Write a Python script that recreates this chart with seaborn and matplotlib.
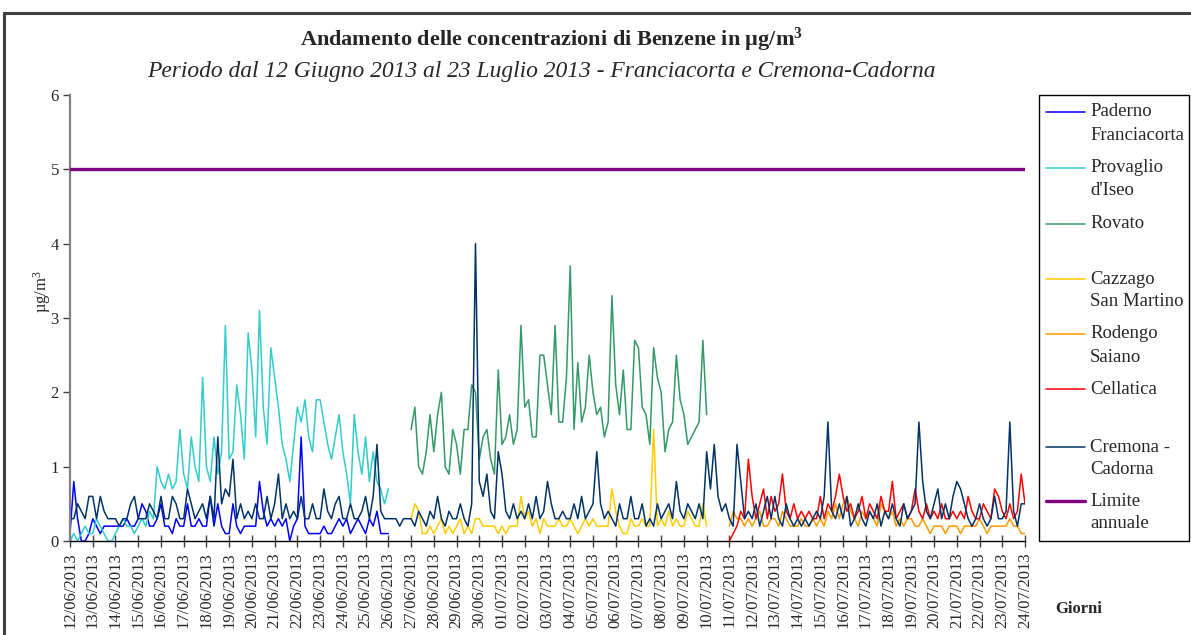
import pandas as pd
import matplotlib
matplotlib.use("Agg")
import matplotlib.pyplot as plt
import matplotlib.dates as mdates
from matplotlib.lines import Line2D
from matplotlib.patches import Rectangle
import seaborn as sns

# ---------------------------------------------------------------------------
# Benzene concentrations (µg/m³), one value every 4 hours
# ---------------------------------------------------------------------------
stations = ["Paderno\nFranciacorta", "Provaglio\nd'Iseo", "Rovato",
            "Cazzago\nSan Martino", "Rodengo\nSaiano", "Cellatica",
            "Cremona -\nCadorna"]
colors = ["#0000FF", "#33CCCC", "#339966", "#FFCC00", "#FF9900", "#FF0000",
          "#003366"]
limit_label = "Limite\nannuale"
limit_color = "#800080"
annual_limit = 5.0

# first sample of each series
starts = ["2013-06-12", "2013-06-12", "2013-06-27", "2013-06-27",
          "2013-07-11", "2013-07-11", "2013-06-12"]

paderno = [
    0.1, 0.8, 0.3, 0.0, 0.0, 0.1,   # 12/06
    0.3, 0.2, 0.1, 0.2, 0.2, 0.2,
    0.2, 0.2, 0.2, 0.3, 0.2, 0.2,
    0.3, 0.5, 0.4, 0.2, 0.2, 0.3,
    0.5, 0.2, 0.2, 0.1, 0.3, 0.2,
    0.2, 0.5, 0.2, 0.2, 0.3, 0.2,
    0.2, 0.6, 0.2, 0.5, 0.2, 0.1,   # 18/06
    0.1, 0.5, 0.2, 0.1, 0.2, 0.2,
    0.2, 0.2, 0.8, 0.4, 0.2, 0.3,
    0.2, 0.3, 0.2, 0.3, 0.0, 0.2,
    0.3, 1.4, 0.2, 0.1, 0.1, 0.1,   # 22/06
    0.1, 0.2, 0.1, 0.1, 0.2, 0.3,
    0.2, 0.3, 0.1, 0.2, 0.3, 0.2,
    0.1, 0.3, 0.2, 0.4, 0.1, 0.1,
    0.1,
]

provaglio = [
    0.0, 0.1, 0.0, 0.1, 0.2, 0.1,   # 12/06
    0.1, 0.3, 0.2, 0.1, 0.0, 0.0,
    0.1, 0.2, 0.3, 0.2, 0.2, 0.1,
    0.2, 0.3, 0.2, 0.4, 0.3, 1.0,
    0.8, 0.7, 0.9, 0.7, 0.8, 1.5,
    0.9, 0.7, 1.4, 1.0, 0.8, 2.2,
    1.0, 0.8, 1.4, 0.9, 1.2, 2.9,   # 18/06
    1.1, 1.2, 2.1, 1.7, 1.1, 2.8,
    2.3, 1.4, 3.1, 1.8, 1.3, 2.6,
    2.2, 1.8, 1.3, 1.1, 0.8, 1.3,
    1.8, 1.6, 1.9, 1.4, 1.2, 1.9,   # 22/06
    1.9, 1.6, 1.3, 1.1, 1.4, 1.7,
    1.2, 0.9, 0.5, 1.7, 1.2, 0.9,
    1.4, 0.8, 1.2, 0.8, 0.7, 0.5,
    0.7,
]

rovato = [
    1.5, 1.8, 1.0, 0.9, 1.2, 1.7,   # 27/06
    1.2, 1.7, 2.0, 1.0, 0.9, 1.5,
    1.3, 0.9, 1.5, 1.5, 2.1, 2.0,
    1.1, 1.4, 1.5, 1.1, 0.9, 2.3,
    1.3, 1.4, 1.7, 1.3, 1.5, 2.9,   # 01/07
    1.8, 1.9, 1.4, 1.4, 2.5, 2.5,
    2.1, 1.7, 2.9, 1.6, 1.6, 2.2,
    3.7, 1.5, 2.4, 1.6, 1.8, 2.5,
    2.0, 1.7, 1.8, 1.4, 1.6, 3.3,   # 05/07
    2.1, 1.7, 2.3, 1.5, 1.5, 2.7,
    2.6, 1.8, 1.7, 1.3, 2.6, 2.2,
    2.0, 1.2, 1.5, 1.6, 2.5, 1.9,
    1.7, 1.3, 1.4, 1.5, 1.6, 2.7,
    1.7,
]

cazzago = [
    0.3, 0.5, 0.4, 0.1, 0.1, 0.2,   # 27/06
    0.1, 0.2, 0.3, 0.1, 0.2, 0.1,
    0.2, 0.3, 0.1, 0.2, 0.1, 0.3,
    0.3, 0.2, 0.2, 0.2, 0.2, 0.1,
    0.2, 0.1, 0.2, 0.2, 0.2, 0.6,   # 01/07
    0.3, 0.4, 0.2, 0.3, 0.1, 0.3,
    0.2, 0.2, 0.2, 0.3, 0.2, 0.2,
    0.3, 0.2, 0.1, 0.2, 0.3, 0.2,
    0.3, 0.2, 0.2, 0.2, 0.2, 0.7,   # 05/07
    0.4, 0.2, 0.1, 0.1, 0.3, 0.2,
    0.2, 0.3, 0.2, 0.2, 1.5, 0.2,
    0.3, 0.2, 0.4, 0.2, 0.3, 0.2,
    0.2, 0.4, 0.3, 0.2, 0.2, 0.5,
    0.2,
]

rodengo = [
    0.2, 0.4, 0.3, 0.3, 0.2, 0.3,   # 11/07
    0.2, 0.3, 0.4, 0.2, 0.2, 0.3,
    0.3, 0.2, 0.4, 0.3, 0.2, 0.2,
    0.2, 0.3, 0.2, 0.2, 0.3, 0.2,
    0.3, 0.2, 0.4, 0.3, 0.5, 0.3,   # 15/07
    0.5, 0.6, 0.4, 0.3, 0.2, 0.4,
    0.3, 0.4, 0.3, 0.2, 0.5, 0.4,
    0.3, 0.4, 0.2, 0.3, 0.2, 0.3,
    0.3, 0.2, 0.2, 0.3, 0.2, 0.1,   # 19/07
    0.2, 0.2, 0.2, 0.1, 0.2, 0.2,
    0.2, 0.1, 0.2, 0.2, 0.2, 0.2,
    0.3, 0.2, 0.1, 0.2, 0.2, 0.2,
    0.2, 0.2, 0.3, 0.2, 0.2, 0.1,
    0.1,
]

cellatica = [
    0.0, 0.1, 0.2, 0.4, 0.3, 1.1,   # 11/07
    0.6, 0.3, 0.5, 0.7, 0.3, 0.6,
    0.4, 0.5, 0.9, 0.4, 0.3, 0.5,
    0.3, 0.4, 0.3, 0.4, 0.3, 0.3,
    0.6, 0.3, 0.5, 0.4, 0.6, 0.9,   # 15/07
    0.6, 0.4, 0.5, 0.3, 0.4, 0.6,
    0.3, 0.5, 0.4, 0.3, 0.6, 0.4,
    0.4, 0.8, 0.3, 0.4, 0.5, 0.3,
    0.4, 0.7, 0.4, 0.3, 0.5, 0.3,   # 19/07
    0.4, 0.3, 0.5, 0.3, 0.3, 0.4,
    0.3, 0.4, 0.3, 0.6, 0.4, 0.3,
    0.3, 0.5, 0.4, 0.3, 0.7, 0.6,
    0.4, 0.3, 0.5, 0.3, 0.4, 0.9,
    0.5,
]

cremona = [
    0.3, 0.3, 0.5, 0.4, 0.3, 0.6,   # 12/06
    0.6, 0.3, 0.6, 0.4, 0.3, 0.3,
    0.3, 0.2, 0.3, 0.3, 0.5, 0.6,
    0.3, 0.3, 0.3, 0.5, 0.4, 0.3,
    0.6, 0.3, 0.3, 0.6, 0.5, 0.3,
    0.3, 0.7, 0.5, 0.3, 0.4, 0.5,
    0.3, 0.6, 0.3, 1.4, 0.5, 0.7,   # 18/06
    0.6, 1.1, 0.3, 0.5, 0.3, 0.4,
    0.3, 0.5, 0.3, 0.3, 0.6, 0.3,
    0.5, 0.9, 0.3, 0.5, 0.3, 0.4,
    0.3, 0.6, 0.3, 0.3, 0.5, 0.3,   # 22/06
    0.3, 0.7, 0.4, 0.3, 0.5, 0.6,
    0.3, 0.3, 0.5, 0.3, 0.3, 0.4,
    0.6, 0.3, 0.6, 1.3, 0.4, 0.3,
    0.3, 0.3, 0.3, 0.2, 0.3, 0.3,   # 26/06
    0.3, 0.2, 0.4, 0.3, 0.2, 0.4,
    0.3, 0.6, 0.3, 0.2, 0.4, 0.3,
    0.3, 0.5, 0.3, 0.2, 0.5, 4.0,
    0.8, 0.6, 0.9, 0.4, 0.3, 1.2,   # 30/06
    0.9, 0.4, 0.3, 0.5, 0.3, 0.4,
    0.3, 0.5, 0.3, 0.6, 0.3, 0.4,
    0.8, 0.5, 0.3, 0.3, 0.4, 0.3,
    0.3, 0.5, 0.3, 0.6, 0.3, 0.4,   # 04/07
    0.5, 1.2, 0.5, 0.3, 0.4, 0.3,
    0.2, 0.5, 0.3, 0.3, 0.6, 0.3,
    0.3, 0.5, 0.2, 0.3, 0.2, 0.5,
    0.3, 0.4, 0.5, 0.3, 0.8, 0.4,   # 08/07
    0.3, 0.5, 0.4, 0.3, 0.5, 0.3,
    1.2, 0.7, 1.3, 0.6, 0.4, 0.5,
    0.3, 0.2, 1.3, 0.8, 0.3, 0.4,   # 11/07
    0.3, 0.5, 0.2, 0.4, 0.6, 0.3,
    0.6, 0.3, 0.2, 0.5, 0.3, 0.2,
    0.3, 0.2, 0.3, 0.2, 0.3, 0.4,
    0.3, 0.6, 1.6, 0.4, 0.3, 0.5,   # 15/07
    0.3, 0.6, 0.2, 0.3, 0.5, 0.3,
    0.2, 0.4, 0.3, 0.5, 0.2, 0.4,
    0.3, 0.5, 0.3, 0.2, 0.5, 0.3,
    0.4, 0.5, 1.6, 0.8, 0.4, 0.3,   # 19/07
    0.5, 0.7, 0.3, 0.5, 0.3, 0.6,
    0.8, 0.7, 0.5, 0.3, 0.2, 0.3,
    0.5, 0.3, 0.2, 0.3, 0.6, 0.3,
    0.3, 0.4, 1.6, 0.4, 0.2, 0.5,   # 23/07
    0.5,
]

series_values = [paderno, provaglio, rovato, cazzago, rodengo, cellatica,
                 cremona]

y_ticks = [0, 1, 2, 3, 4, 5, 6]
x_start, x_end = "2013-06-12", "2013-07-24"

title = "Andamento delle concentrazioni di Benzene in µg/m$^{\\mathbf{3}}$"
subtitle = ("Periodo dal 12 Giugno 2013 al 23 Luglio 2013 - "
            "Franciacorta e Cremona-Cadorna")
y_label = "µg/m$^{3}$"
x_label = "Giorni"

# ---------------------------------------------------------------------------
frames = []
for name, start, vals in zip(stations, starts, series_values):
    t = pd.date_range(start, periods=len(vals), freq="4h")
    frames.append(pd.DataFrame({"time": t, "value": vals, "station": name}))
df = pd.concat(frames, ignore_index=True)

sns.set_theme(style="white")
plt.rcParams["font.family"] = ["Liberation Serif", "DejaVu Serif"]
plt.rcParams["mathtext.fontset"] = "custom"
plt.rcParams["mathtext.rm"] = "Liberation Serif"
plt.rcParams["mathtext.it"] = "Liberation Serif:italic"
plt.rcParams["mathtext.bf"] = "Liberation Serif:bold"

W, H = 1191, 635
fig = plt.figure(figsize=(W / 100, H / 100), dpi=100)
fig.patch.set_facecolor("white")


def fx(px):
    return px / W


def fy(py):
    return 1 - py / H


ax = fig.add_axes([fx(70), fy(541), fx(1025) - fx(70), fy(95) - fy(541)])

sns.lineplot(data=df, x="time", y="value", hue="station",
             hue_order=stations, palette=dict(zip(stations, colors)),
             estimator=None, linewidth=1.1, legend=False, ax=ax)
ax.axhline(annual_limit, color=limit_color, linewidth=2.4, zorder=5)

ax.set_xlim(pd.Timestamp(x_start), pd.Timestamp(x_end))
ax.set_ylim(y_ticks[0], y_ticks[-1])
ax.set_yticks(y_ticks)
ax.xaxis.set_major_locator(mdates.DayLocator())
ax.xaxis.set_major_formatter(mdates.DateFormatter("%d/%m/%Y"))
ax.set_xlabel("")
ax.set_ylabel("")
ax.tick_params(axis="x", labelsize=12, rotation=90, direction="inout",
               length=8, width=1, color="#404040", pad=4, bottom=True)
ax.tick_params(axis="y", labelsize=12, direction="out", length=5, width=1,
               color="#404040", pad=3, left=True)
for lab in ax.get_xticklabels():
    lab.set_verticalalignment("top")

for side in ("top", "right"):
    ax.spines[side].set_visible(False)
ax.spines["left"].set_color("#808080")
ax.spines["left"].set_linewidth(1.6)
ax.spines["bottom"].set_color("black")
ax.spines["bottom"].set_linewidth(1.0)
ax.grid(False)
ax.set_facecolor("white")

# titles and axis captions
fig.text(fx(552), fy(40), title, ha="center", va="center", fontsize=16,
         fontweight="bold")
fig.text(fx(541), fy(71), subtitle, ha="center", va="center", fontsize=16.9,
         style="italic")
fig.text(fx(42), fy(292), y_label, ha="center", va="center", fontsize=12,
         rotation=90)
fig.text(fx(1079), fy(609), x_label, ha="center", va="center", fontsize=12,
         fontweight="bold")

# chart frame (right and bottom edges fall outside the canvas)
fig.add_artist(Rectangle((fx(4), fy(700)), fx(1200) - fx(4), fy(13) - fy(700),
                         transform=fig.transFigure, fill=False,
                         edgecolor="#404040", linewidth=2.2))

# legend panel
fig.add_artist(Rectangle((fx(1039), fy(541)), fx(1189) - fx(1039),
                         fy(95) - fy(541), transform=fig.transFigure,
                         fill=False, edgecolor="black", linewidth=1.0))
legend_labels = stations + [limit_label]
legend_colors = colors + [limit_color]
legend_widths = [1.1] * len(stations) + [2.4]
entry_y = [112, 168, 224, 279, 334, 389, 447, 501]
for lab, col, lw, yc in zip(legend_labels, legend_colors, legend_widths,
                            entry_y):
    fig.add_artist(Line2D([fx(1046), fx(1085)], [fy(yc), fy(yc)],
                          transform=fig.transFigure, color=col, linewidth=lw))
    for k, line in enumerate(lab.split("\n")):
        fig.text(fx(1090), fy(yc + 23 * k), line, ha="left", va="center",
                 fontsize=13.5)

fig.savefig("out.png", dpi=100, facecolor="white")
